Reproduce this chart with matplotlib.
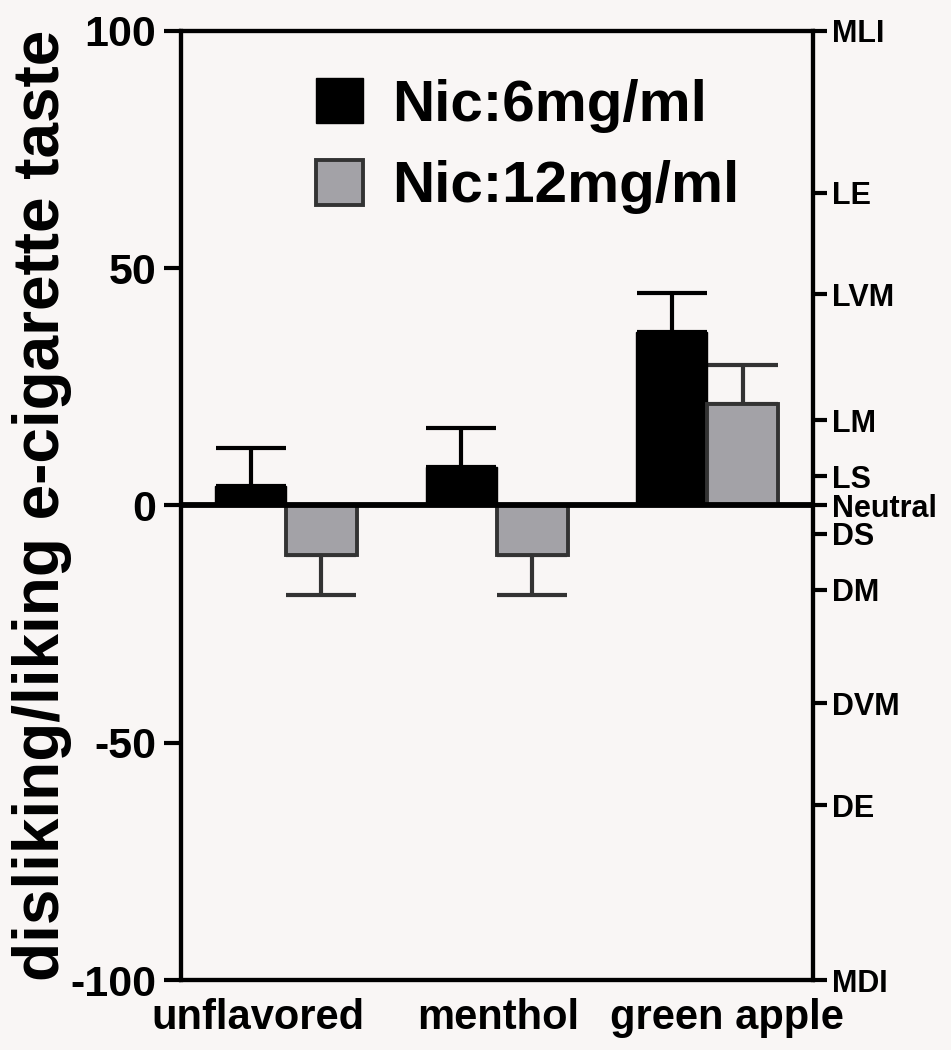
import matplotlib.pyplot as plt
import numpy as np

plt.rcParams['font.family'] = ['Liberation Sans', 'DejaVu Sans']
plt.rcParams['font.weight'] = 'bold'

# --- data ---
flavors = ["unflavored", "menthol", "green apple"]
nic6_mean = [4.1, 8.2, 36.6]
nic6_sem = [8.1, 8.1, 8.1]
nic12_mean = [-10.5, -10.5, 21.3]
nic12_sem = [8.3, 8.3, 8.3]
series_labels = ["Nic:6mg/ml", "Nic:12mg/ml"]

left_ticks = [-100, -50, 0, 50, 100]
right_ticks = [100, 65.9, 44.5, 17.9, 6.2, 0, -6.0, -17.7, -41.7, -63.1, -100]
right_labels = ["MLI", "LE", "LVM", "LM", "LS", "Neutral", "DS", "DM", "DVM", "DE", "MDI"]

bg = "#f9f6f5"
gray_fill = "#a3a2a7"
gray_edge = "#333333"

fig = plt.figure(figsize=(9.51, 10.5), dpi=100, facecolor=bg)
ax = fig.add_axes([0.190, 0.0664, 0.6644, 0.9044])
ax.set_facecolor(bg)

x = np.arange(len(flavors))
w = 0.337

ax.bar(x - w / 2, nic6_mean, w, color="black", edgecolor="black", linewidth=1,
       label=series_labels[0], zorder=2)
ax.bar(x + w / 2, nic12_mean, w, color=gray_fill, edgecolor=gray_edge, linewidth=2.8,
       label=series_labels[1], zorder=2)

# one-sided error bars (away from zero)
m6 = np.array(nic6_mean)
s6 = np.array(nic6_sem)
m12 = np.array(nic12_mean)
s12 = np.array(nic12_sem)
err6 = [np.where(m6 < 0, s6, 0), np.where(m6 >= 0, s6, 0)]
err12 = [np.where(m12 < 0, s12, 0), np.where(m12 >= 0, s12, 0)]
ax.errorbar(x - w / 2, m6, yerr=err6, fmt="none", ecolor="black",
            elinewidth=3, capsize=25, capthick=3, zorder=1)
ax.errorbar(x + w / 2, m12, yerr=err12, fmt="none", ecolor=gray_edge,
            elinewidth=3, capsize=25, capthick=3, zorder=1)

ax.axhline(0, color="black", lw=4.2, zorder=3)

ax.set_xlim(-0.5, 2.5)
ax.set_ylim(-100, 100)
ax.set_yticks(left_ticks)
ax.set_yticklabels([str(t) for t in left_ticks], fontsize=31, fontweight="bold")

label_shift = [-0.132, 0.006, 0.094]
ax.set_xticks(x + np.array(label_shift))
ax.set_xticklabels(flavors, fontsize=30, fontweight="bold")
ax.tick_params(axis="x", length=0, pad=13)
ax.tick_params(axis="y", length=12.5, width=3, pad=5)

for s in ax.spines.values():
    s.set_linewidth(3)

ax.set_ylabel("disliking/liking e-cigarette taste", fontsize=46, fontweight="bold")
ax.yaxis.set_label_coords(-0.172, 0.5)

ax2 = ax.twinx()
ax2.set_ylim(-100, 100)
ax2.set_yticks(right_ticks)
ax2.set_yticklabels(right_labels, fontsize=22, fontweight="bold")
ax2.tick_params(axis="y", length=10, width=3, pad=4)
for s in ax2.spines.values():
    s.set_linewidth(3)

ax.legend(loc="upper left", bbox_to_anchor=(0.214, 0.9502), frameon=False,
          prop={"size": 42, "weight": "bold"}, handlelength=0.81, handleheight=0.81,
          handletextpad=0.5, labelspacing=0.46, borderpad=0, borderaxespad=0)

fig.savefig("out.png", dpi=100, facecolor=bg)
